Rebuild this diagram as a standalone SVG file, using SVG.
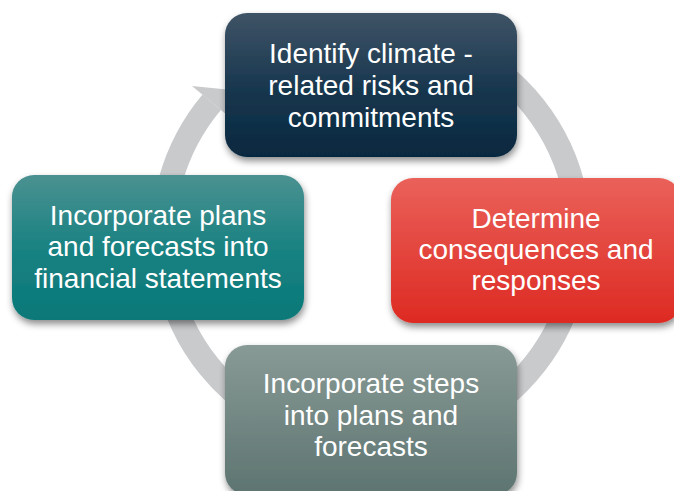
<svg xmlns="http://www.w3.org/2000/svg" width="674" height="491" viewBox="0 0 674 491">
<defs>
<linearGradient id="gTop" x1="0" y1="0" x2="0" y2="1"><stop offset="0" stop-color="#3f5466"/><stop offset="0.5" stop-color="#1a3850"/><stop offset="1" stop-color="#06283f"/></linearGradient>
<linearGradient id="gRight" x1="0" y1="0" x2="0" y2="1"><stop offset="0" stop-color="#ea615a"/><stop offset="1" stop-color="#dd2a22"/></linearGradient>
<linearGradient id="gLeft" x1="0" y1="0" x2="0" y2="1"><stop offset="0" stop-color="#4b9191"/><stop offset="0.5" stop-color="#1a8282"/><stop offset="1" stop-color="#097878"/></linearGradient>
<linearGradient id="gBottom" x1="0" y1="0" x2="0" y2="1"><stop offset="0" stop-color="#889a96"/><stop offset="1" stop-color="#5d7470"/></linearGradient>
<filter id="shadow" x="-10%" y="-10%" width="125%" height="135%"><feDropShadow dx="1" dy="4" stdDeviation="3.5" flood-color="#000" flood-opacity="0.45"/></filter>
</defs>
<style>
.box{filter:url(#shadow);}
.lbl{font-family:"Liberation Sans",Arial,sans-serif;font-size:28px;fill:#ffffff;text-anchor:middle;}
.ring{fill:none;stroke:#c9cacc;stroke-width:24;}
</style>
<rect width="674" height="491" fill="#ffffff"/>
<g id="connectors">
<path class="ring" d="M371,28 A208,208 0 1 1 211.7,102.3"/>
<polygon points="192,86 252,92 233,120" fill="#c9cacc"/>
</g>
<g id="node-identify">
<rect class="box" x="225" y="13" width="292" height="144" rx="22" fill="url(#gTop)"/>
<text class="lbl" x="371" y="63">Identify climate -</text>
<text class="lbl" x="371" y="95">related risks and</text>
<text class="lbl" x="371" y="127">commitments</text>
</g>
<g id="node-determine">
<rect class="box" x="391" y="178" width="290" height="145" rx="22" fill="url(#gRight)"/>
<text class="lbl" x="536" y="228">Determine</text>
<text class="lbl" x="536" y="259">consequences and</text>
<text class="lbl" x="536" y="290">responses</text>
</g>
<g id="node-steps">
<rect class="box" x="225" y="345" width="292" height="150" rx="22" fill="url(#gBottom)"/>
<text class="lbl" x="371" y="393">Incorporate steps</text>
<text class="lbl" x="371" y="425">into plans and</text>
<text class="lbl" x="371" y="456">forecasts</text>
</g>
<g id="node-financial">
<rect class="box" x="12" y="175" width="292" height="145" rx="22" fill="url(#gLeft)"/>
<text class="lbl" x="158" y="225">Incorporate plans</text>
<text class="lbl" x="158" y="256">and forecasts into</text>
<text class="lbl" x="158" y="288">financial statements</text>
</g>
</svg>
